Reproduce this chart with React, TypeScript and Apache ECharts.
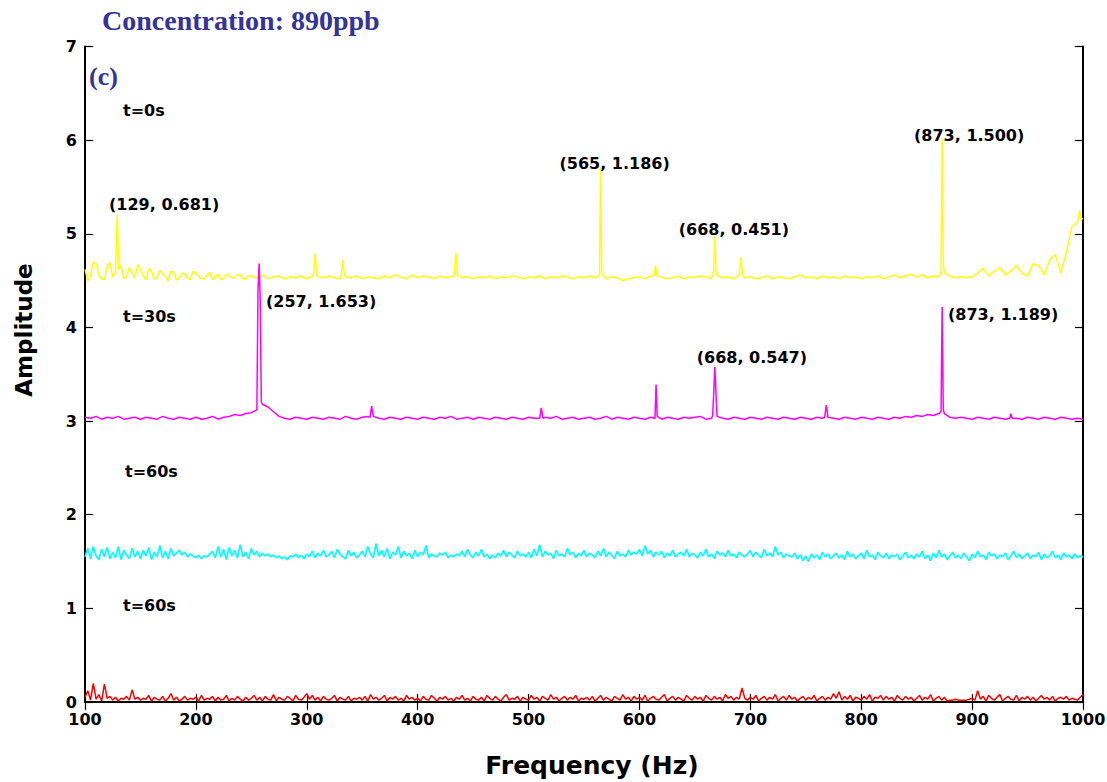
import React, { useEffect, useRef } from "react";
import * as echarts from "echarts";

// Frequency grid of the base traces
const F0 = 100;
const STEP = 5; // yellow & magenta traces
const FINE_STEP = 2.5; // cyan & red traces
const X_TICKS = [100, 200, 300, 400, 500, 600, 700, 800, 900, 1000];
const Y_TICKS = [0, 1, 2, 3, 4, 5, 6, 7];

// t=0s (yellow) base trace, 5 Hz steps, rows of 50 Hz
const yellowBase = [
  4.62, 4.55, 4.68, 4.52, 4.66, 4.54, 4.60, 4.52, 4.64, 4.53,
  4.62, 4.51, 4.60, 4.53, 4.58, 4.50, 4.59, 4.52, 4.57, 4.51,
  4.58, 4.52, 4.56, 4.51, 4.57, 4.52, 4.55, 4.53, 4.56, 4.52,
  4.55, 4.53, 4.56, 4.52, 4.54, 4.55, 4.52, 4.54, 4.53, 4.55,
  4.52, 4.55, 4.54, 4.53, 4.55, 4.53, 4.52, 4.54, 4.53, 4.55,
  4.52, 4.54, 4.53, 4.52, 4.55, 4.53, 4.56, 4.54, 4.52, 4.56,
  4.53, 4.55, 4.54, 4.52, 4.55, 4.53, 4.54, 4.56, 4.53, 4.54,
  4.52, 4.54, 4.53, 4.55, 4.52, 4.54, 4.53, 4.55, 4.54, 4.52,
  4.54, 4.53, 4.55, 4.52, 4.54, 4.53, 4.55, 4.54, 4.52, 4.54,
  4.53, 4.55, 4.53, 4.54, 4.52, 4.54, 4.53, 4.50, 4.52, 4.53,
  4.54, 4.52, 4.55, 4.53, 4.54, 4.52, 4.53, 4.55, 4.52, 4.54,
  4.53, 4.55, 4.54, 4.52, 4.55, 4.53, 4.54, 4.52, 4.55, 4.53,
  4.54, 4.52, 4.53, 4.55, 4.52, 4.54, 4.53, 4.52, 4.54, 4.56,
  4.53, 4.54, 4.52, 4.55, 4.53, 4.54, 4.52, 4.55, 4.53, 4.54,
  4.52, 4.54, 4.53, 4.55, 4.52, 4.54, 4.56, 4.53, 4.55, 4.57,
  4.54, 4.56, 4.53, 4.55, 4.54, 4.52, 4.55, 4.53, 4.54, 4.53,
  4.54, 4.58, 4.63, 4.55, 4.60, 4.64, 4.56, 4.60, 4.66, 4.58,
  4.55, 4.68, 4.66, 4.56, 4.72, 4.78, 4.58, 4.80, 5.08, 5.12,
  5.16,
];
// extra half-step samples of the noisy start of t=0s (102.5 Hz .. 247.5 Hz)
const yellowHalfSteps = [
  4.50, 4.70, 4.56, 4.51, 4.69, 4.55, 4.66, 4.54, 4.58, 4.67,
  4.55, 4.63, 4.52, 4.61, 4.54, 4.60, 4.51, 4.58, 4.53, 4.60,
  4.55, 4.52, 4.59, 4.54, 4.51, 4.57, 4.53, 4.56, 4.52, 4.55,
];

// t=0s peaks: [frequency, amplitude]
const yellowPeaks = [
  [[127.5, 4.58], [129, 5.20], [130.5, 4.62]],
  [[306, 4.56], [307.5, 4.79], [309, 4.56]],
  [[331, 4.55], [332.5, 4.72], [334, 4.55]],
  [[433, 4.55], [434.5, 4.80], [436, 4.56]],
  [[564, 4.56], [565, 5.706], [566, 4.58]],
  [[613, 4.55], [614.5, 4.66], [616, 4.55]],
  [[666, 4.58], [667, 4.62], [668, 4.971], [669, 4.60], [670, 4.56]],
  [[690, 4.56], [691.5, 4.75], [693, 4.56]],
  [[872, 4.58], [873, 6.02], [874, 4.70], [875, 4.58]],
  [[996, 5.18], [997, 5.25], [998, 5.16]],
];

// t=30s (magenta) base trace, 5 Hz steps
const magentaBase = [
  3.04, 3.03, 3.05, 3.02, 3.04, 3.03, 3.05, 3.02, 3.03, 3.04,
  3.02, 3.04, 3.03, 3.02, 3.05, 3.03, 3.02, 3.04, 3.03, 3.02,
  3.04, 3.02, 3.03, 3.05, 3.02, 3.04, 3.05, 3.07, 3.06, 3.08,
  3.09, 3.14, 3.18, 3.15, 3.10, 3.05, 3.03, 3.02, 3.04, 3.03,
  3.02, 3.04, 3.03, 3.02, 3.04, 3.03, 3.02, 3.05, 3.03, 3.02,
  3.04, 3.05, 3.06, 3.03, 3.02, 3.04, 3.03, 3.02, 3.04, 3.03,
  3.02, 3.04, 3.03, 3.02, 3.04, 3.03, 3.05, 3.02, 3.03, 3.04,
  3.02, 3.04, 3.03, 3.02, 3.04, 3.03, 3.02, 3.04, 3.03, 3.02,
  3.04, 3.03, 3.02, 3.04, 3.03, 3.05, 3.02, 3.03, 3.04, 3.02,
  3.03, 3.04, 3.02, 3.03, 3.05, 3.02, 3.04, 3.03, 3.02, 3.04,
  3.03, 3.02, 3.04, 3.03, 3.02, 3.04, 3.03, 3.02, 3.04, 3.03,
  3.04, 3.05, 3.02, 3.03, 3.04, 3.03, 3.02, 3.04, 3.03, 3.02,
  3.04, 3.03, 3.02, 3.04, 3.03, 3.02, 3.04, 3.03, 3.02, 3.04,
  3.03, 3.02, 3.04, 3.03, 3.05, 3.03, 3.02, 3.04, 3.03, 3.02,
  3.04, 3.03, 3.02, 3.04, 3.03, 3.02, 3.04, 3.03, 3.05, 3.04,
  3.06, 3.05, 3.07, 3.06, 3.08, 3.07, 3.04, 3.03, 3.04, 3.03,
  3.02, 3.04, 3.03, 3.02, 3.04, 3.03, 3.02, 3.06, 3.03, 3.02,
  3.04, 3.03, 3.02, 3.04, 3.03, 3.02, 3.04, 3.03, 3.02, 3.03,
  3.02,
];

// t=30s peaks
const magentaPeaks = [
  [[255, 3.12], [256, 4.40], [257, 4.683], [258, 4.30], [259, 3.20]],
  [[357, 3.04], [358.5, 3.16], [360, 3.05]],
  [[510, 3.03], [511.5, 3.14], [513, 3.03]],
  [[614, 3.03], [615, 3.39], [616, 3.05]],
  [[666, 3.06], [667, 3.30], [668, 3.577], [669, 3.30], [670, 3.05]],
  [[767, 3.04], [768.5, 3.17], [770, 3.04]],
  [[871, 3.09], [872, 3.11], [873, 4.219], [874, 3.12], [875, 3.08]],
  [[934, 3.03], [935, 3.08], [936, 3.03]],
];

// t=60s (cyan) trace, 2.5 Hz steps, rows of 50 Hz
const cyanBase = [
  1.55, 1.64, 1.53, 1.66, 1.56, 1.52, 1.63, 1.55, 1.65, 1.53, 1.60, 1.54, 1.66, 1.52, 1.62, 1.57, 1.53, 1.64, 1.55, 1.61,
  1.53, 1.62, 1.56, 1.65, 1.52, 1.60, 1.55, 1.67, 1.54, 1.61, 1.53, 1.64, 1.56, 1.59, 1.62, 1.57, 1.60, 1.55, 1.58, 1.56,
  1.54, 1.57, 1.53, 1.56, 1.55, 1.58, 1.61, 1.54, 1.66, 1.55, 1.63, 1.52, 1.65, 1.56, 1.62, 1.54, 1.68, 1.55, 1.60, 1.53,
  1.64, 1.57, 1.61, 1.55, 1.59, 1.56, 1.58, 1.55, 1.57, 1.54, 1.56, 1.53, 1.55, 1.52, 1.56, 1.55, 1.58, 1.54, 1.57, 1.53,
  1.58, 1.55, 1.61, 1.54, 1.59, 1.56, 1.62, 1.55, 1.57, 1.61, 1.54, 1.63, 1.58, 1.55, 1.53, 1.62, 1.56, 1.60, 1.54, 1.57,
  1.61, 1.55, 1.66, 1.58, 1.54, 1.69, 1.56, 1.62, 1.55, 1.64, 1.53, 1.60, 1.57, 1.66, 1.54, 1.61, 1.56, 1.59, 1.53, 1.62,
  1.55, 1.60, 1.57, 1.67, 1.54, 1.58, 1.56, 1.55, 1.59, 1.57, 1.60, 1.54, 1.57, 1.55, 1.58, 1.56, 1.61, 1.55, 1.63, 1.57,
  1.54, 1.60, 1.56, 1.63, 1.55, 1.58, 1.53, 1.57, 1.54, 1.59, 1.56, 1.62, 1.55, 1.60, 1.57, 1.54, 1.61, 1.56, 1.58, 1.55,
  1.60, 1.54, 1.63, 1.56, 1.68, 1.55, 1.61, 1.57, 1.59, 1.53, 1.62, 1.56, 1.58, 1.55, 1.64, 1.57, 1.60, 1.54, 1.59, 1.56,
  1.62, 1.55, 1.59, 1.57, 1.54, 1.61, 1.56, 1.64, 1.55, 1.60, 1.57, 1.53, 1.61, 1.56, 1.58, 1.55, 1.62, 1.57, 1.60, 1.58,
  1.63, 1.56, 1.67, 1.58, 1.62, 1.55, 1.60, 1.57, 1.61, 1.54, 1.59, 1.56, 1.62, 1.55, 1.58, 1.60, 1.56, 1.63, 1.55, 1.59,
  1.57, 1.54, 1.60, 1.56, 1.63, 1.55, 1.58, 1.53, 1.61, 1.57, 1.59, 1.55, 1.62, 1.56, 1.58, 1.54, 1.60, 1.57, 1.55, 1.58,
  1.62, 1.55, 1.60, 1.57, 1.54, 1.63, 1.56, 1.59, 1.55, 1.66, 1.57, 1.60, 1.54, 1.58, 1.56, 1.55, 1.59, 1.53, 1.57, 1.51,
  1.56, 1.50, 1.58, 1.54, 1.57, 1.52, 1.60, 1.55, 1.58, 1.53, 1.56, 1.59, 1.54, 1.57, 1.52, 1.61, 1.55, 1.58, 1.53, 1.56,
  1.59, 1.53, 1.62, 1.55, 1.57, 1.52, 1.60, 1.56, 1.54, 1.59, 1.53, 1.57, 1.55, 1.58, 1.52, 1.56, 1.60, 1.54, 1.57, 1.53,
  1.58, 1.55, 1.61, 1.53, 1.57, 1.51, 1.59, 1.54, 1.62, 1.55, 1.58, 1.52, 1.56, 1.60, 1.54, 1.57, 1.53, 1.59, 1.55, 1.51,
  1.58, 1.54, 1.61, 1.55, 1.57, 1.52, 1.60, 1.56, 1.58, 1.53, 1.57, 1.55, 1.59, 1.52, 1.56, 1.61, 1.54, 1.58, 1.53, 1.56,
  1.59, 1.53, 1.57, 1.55, 1.60, 1.52, 1.58, 1.54, 1.56, 1.61, 1.54, 1.57, 1.52, 1.59, 1.55, 1.57, 1.53, 1.58, 1.54, 1.56,
  1.55,
];

// second t=60s (red) trace, 2.5 Hz steps
const redBase = [
  0.05, 0.12, 0.02, 0.20, 0.03, 0.08, 0.01, 0.19, 0.04, 0.06, 0.02, 0.05, 0.01, 0.04, 0.03, 0.06, 0.02, 0.13, 0.03, 0.05,
  0.02, 0.04, 0.03, 0.07, 0.01, 0.05, 0.03, 0.02, 0.06, 0.01, 0.04, 0.09, 0.02, 0.05, 0.01, 0.03, 0.06, 0.02, 0.04, 0.03,
  0.05, 0.01, 0.07, 0.02, 0.04, 0.03, 0.06, 0.01, 0.05, 0.02, 0.03, 0.07, 0.01, 0.04, 0.02, 0.06, 0.03, 0.01, 0.05, 0.02,
  0.04, 0.07, 0.02, 0.05, 0.01, 0.06, 0.03, 0.02, 0.08, 0.01, 0.05, 0.03, 0.02, 0.06, 0.04, 0.01, 0.07, 0.03, 0.02, 0.05,
  0.09, 0.03, 0.07, 0.02, 0.05, 0.01, 0.06, 0.03, 0.02, 0.04, 0.07, 0.01, 0.05, 0.03, 0.02, 0.06, 0.01, 0.04, 0.03, 0.05,
  0.02, 0.06, 0.01, 0.08, 0.03, 0.05, 0.02, 0.04, 0.07, 0.01, 0.05, 0.03, 0.06, 0.02, 0.04, 0.01, 0.07, 0.03, 0.05, 0.02,
  0.04, 0.01, 0.06, 0.03, 0.02, 0.07, 0.04, 0.01, 0.05, 0.03, 0.06, 0.02, 0.04, 0.01, 0.05, 0.03, 0.07, 0.02, 0.04, 0.01,
  0.06, 0.03, 0.02, 0.05, 0.01, 0.07, 0.04, 0.02, 0.06, 0.03, 0.01, 0.05, 0.08, 0.02, 0.04, 0.03, 0.06, 0.01, 0.05, 0.03,
  0.02, 0.07, 0.03, 0.05, 0.01, 0.06, 0.04, 0.02, 0.08, 0.03, 0.05, 0.01, 0.04, 0.06, 0.02, 0.05, 0.03, 0.07, 0.01, 0.04,
  0.03, 0.05, 0.02, 0.06, 0.01, 0.04, 0.07, 0.02, 0.05, 0.03, 0.01, 0.06, 0.04, 0.02, 0.08, 0.03, 0.05, 0.01, 0.06, 0.03,
  0.05, 0.02, 0.07, 0.01, 0.04, 0.06, 0.03, 0.02, 0.05, 0.08, 0.01, 0.04, 0.06, 0.02, 0.05, 0.03, 0.01, 0.07, 0.04, 0.02,
  0.06, 0.03, 0.05, 0.01, 0.07, 0.04, 0.02, 0.06, 0.03, 0.05, 0.01, 0.08, 0.04, 0.06, 0.02, 0.05, 0.03, 0.15, 0.04, 0.02,
  0.05, 0.03, 0.07, 0.01, 0.04, 0.06, 0.02, 0.05, 0.03, 0.08, 0.01, 0.04, 0.06, 0.02, 0.07, 0.03, 0.05, 0.01, 0.04, 0.06,
  0.02, 0.05, 0.03, 0.07, 0.01, 0.04, 0.06, 0.02, 0.05, 0.03, 0.09, 0.04, 0.11, 0.02, 0.06, 0.03, 0.07, 0.01, 0.05, 0.04,
  0.02, 0.06, 0.03, 0.08, 0.01, 0.05, 0.04, 0.07, 0.02, 0.06, 0.03, 0.05, 0.01, 0.07, 0.04, 0.02, 0.06, 0.03, 0.05, 0.01,
  0.04, 0.07, 0.02, 0.05, 0.03, 0.08, 0.01, 0.04, 0.06, 0.02, 0.05, 0.01, 0.02, 0.02, 0.03, 0.02, 0.02, 0.02, 0.02, 0.03,
  0.04, 0.02, 0.12, 0.03, 0.06, 0.01, 0.07, 0.04, 0.02, 0.05, 0.08, 0.01, 0.04, 0.06, 0.03, 0.02, 0.07, 0.01, 0.05, 0.03,
  0.06, 0.02, 0.05, 0.01, 0.04, 0.07, 0.03, 0.05, 0.02, 0.06, 0.01, 0.04, 0.05, 0.03, 0.06, 0.02, 0.04, 0.03, 0.02, 0.05,
  0.08,
];

// peak annotations: [frequency, relative amplitude text]
const yellowLabels = [
  [129, "0.681"],
  [565, "1.186"],
  [668, "0.451"],
  [873, "1.500"],
];
const magentaLabels = [
  [257, "1.653"],
  [668, "0.547"],
  [873, "1.189"],
];

const curveNames = ["t=0s", "t=30s", "t=60s", "t=60s"];

// label placement (pixels relative to the peak top)
const YELLOW_OFFSETS = [[47, -11], [14, -4], [19, -7], [27, -3]];
const MAGENTA_OFFSETS = [[62, 38], [37, -10], [61, 8]];

function buildSeries(
  base: number[],
  step: number,
  peaks: number[][][],
  extra: number[] = [],
  extraStart = 0
) {
  const pts: number[][] = [];
  const blocked = (f: number) =>
    peaks.some((g) => f >= g[0][0] && f <= g[g.length - 1][0]);
  base.forEach((v, i) => {
    const f = F0 + step * i;
    if (!blocked(f)) pts.push([f, v]);
  });
  extra.forEach((v, i) => {
    const f = extraStart + step * i;
    if (!blocked(f)) pts.push([f, v]);
  });
  peaks.forEach((g) => g.forEach((p) => pts.push(p)));
  pts.sort((a, b) => a[0] - b[0]);
  return pts;
}

function peakTop(peaks: number[][][], f: number) {
  let best = [f, 0];
  peaks.forEach((g) =>
    g.forEach((p) => {
      if (p[0] === f) best = p;
    })
  );
  return best;
}

const SANS = "DejaVu Sans";

function markPoints(peaks: number[][][], labels: any[], offsets: number[][]) {
  return {
    symbol: "circle",
    symbolSize: 1,
    itemStyle: { color: "rgba(0,0,0,0)" },
    silent: true,
    label: {
      show: true,
      position: "inside",
      color: "#000",
      fontFamily: SANS,
      fontWeight: "bold",
      fontSize: 16,
    },
    data: labels.map((l, i) => ({
      coord: peakTop(peaks, l[0]),
      label: { formatter: `(${l[0]}, ${l[1]})`, offset: offsets[i] },
    })),
  };
}

export default function App() {
  const ref = useRef<HTMLDivElement>(null);

  useEffect(() => {
    document.body.style.margin = "0";
    const chart = echarts.init(ref.current!, null, { renderer: "svg" });
    const tickLabel = {
      color: "#000",
      fontFamily: SANS,
      fontWeight: "bold",
      fontSize: 16,
    };
    const axisLine = { show: true, lineStyle: { color: "#000", width: 2 } };
    const tick = { show: true, inside: true, length: 8, lineStyle: { color: "#000", width: 1.2 } };
    const curveText = (text: string, x: number, y: number) => ({
      type: "text",
      x,
      y,
      style: { text, font: `bold 16px "${SANS}"`, fill: "#000", textVerticalAlign: "middle" },
    });

    const option: any = {
      animation: false,
      backgroundColor: "#fff",
      grid: {
        left: 85,
        right: 24,
        top: 46.5,
        bottom: 80,
        containLabel: false,
        outerBoundsMode: "none",
      },
      xAxis: [
        {
          type: "value",
          min: X_TICKS[0],
          max: X_TICKS[X_TICKS.length - 1],
          interval: 100,
          position: "bottom",
          axisLine,
          axisTick: tick,
          axisLabel: { ...tickLabel, margin: 9, formatter: (v: number) => String(v) },
          splitLine: { show: false },
        },
        {
          type: "value",
          min: X_TICKS[0],
          max: X_TICKS[X_TICKS.length - 1],
          interval: 100,
          position: "top",
          axisLine,
          axisTick: tick,
          axisLabel: { show: false },
          splitLine: { show: false },
        },
      ],
      yAxis: [
        {
          type: "value",
          min: Y_TICKS[0],
          max: Y_TICKS[Y_TICKS.length - 1],
          interval: 1,
          position: "left",
          axisLine,
          axisTick: tick,
          axisLabel: { ...tickLabel, margin: 8 },
          splitLine: { show: false },
        },
        {
          type: "value",
          min: Y_TICKS[0],
          max: Y_TICKS[Y_TICKS.length - 1],
          interval: 1,
          position: "right",
          axisLine,
          axisTick: tick,
          axisLabel: { show: false },
          splitLine: { show: false },
        },
      ],
      series: [
        {
          name: curveNames[0],
          type: "line",
          showSymbol: false,
          symbol: "none",
          lineStyle: { color: "#ffff00", width: 1.5 },
          data: buildSeries(yellowBase, STEP, yellowPeaks, yellowHalfSteps, 102.5),
          markPoint: markPoints(yellowPeaks, yellowLabels, YELLOW_OFFSETS),
          z: 3,
        },
        {
          name: curveNames[1],
          type: "line",
          showSymbol: false,
          symbol: "none",
          lineStyle: { color: "#ff00ff", width: 1.5 },
          data: buildSeries(magentaBase, STEP, magentaPeaks),
          markPoint: markPoints(magentaPeaks, magentaLabels, MAGENTA_OFFSETS),
          z: 3,
        },
        {
          name: curveNames[2],
          type: "line",
          showSymbol: false,
          symbol: "none",
          lineStyle: { color: "#00ffff", width: 1.7 },
          data: buildSeries(cyanBase, FINE_STEP, []),
          z: 3,
        },
        {
          name: curveNames[3],
          type: "line",
          showSymbol: false,
          symbol: "none",
          lineStyle: { color: "#ff0000", width: 1.5 },
          data: buildSeries(redBase, FINE_STEP, []),
          z: 3,
        },
      ],
      graphic: [
        {
          type: "text",
          x: 102,
          y: 20,
          style: {
            text: "Concentration: 890ppb",
            font: 'bold 28px "Liberation Serif"',
            fill: "#333399",
            textVerticalAlign: "middle",
          },
        },
        {
          type: "text",
          x: 89,
          y: 76,
          style: {
            text: "(c)",
            font: 'bold 26px "Liberation Serif"',
            fill: "#333399",
            textVerticalAlign: "middle",
          },
        },
        curveText(curveNames[0], 123, 110),
        curveText(curveNames[1], 123, 316),
        curveText(curveNames[2], 125, 471),
        curveText(curveNames[3], 123, 605),
        {
          type: "text",
          x: 24,
          y: 330,
          rotation: Math.PI / 2,
          style: {
            text: "Amplitude",
            font: `bold 23px "${SANS}"`,
            fill: "#000",
            textAlign: "center",
            textVerticalAlign: "middle",
          },
        },
        {
          type: "text",
          x: 592,
          y: 765,
          style: {
            text: "Frequency (Hz)",
            font: `bold 25px "${SANS}"`,
            fill: "#000",
            textAlign: "center",
            textVerticalAlign: "middle",
          },
        },
      ],
    };
    chart.setOption(option);
    return () => chart.dispose();
  }, []);

  return <div ref={ref} style={{ width: 1107, height: 782 }} />;
}
